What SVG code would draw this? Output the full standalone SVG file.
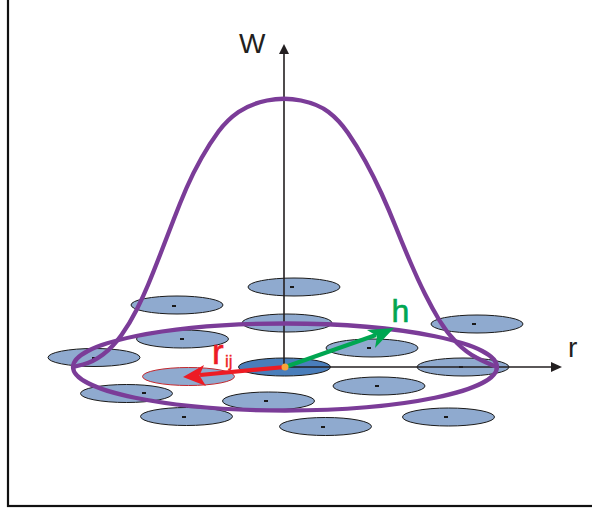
<svg xmlns="http://www.w3.org/2000/svg" width="592" height="512" viewBox="0 0 592 512">
<style>
.p{fill:#8faacf;stroke:#1a1a1a;stroke-width:1}
.d{fill:#1a1a1a}
.ax{stroke:#231f20;stroke-width:1.6;fill:none}
.ah{fill:#231f20}
.pur{fill:none;stroke:#7b3c98;stroke-width:4.3}
.t{font-family:"Liberation Sans",Arial,sans-serif}
</style>
<rect x="0" y="0" width="592" height="512" fill="#ffffff"/>
<rect x="8" y="-10" width="600" height="516" fill="none" stroke="#111" stroke-width="2.2"/>

<g id="particles">
<g id="pI"><ellipse class="p" cx="294" cy="287" rx="46" ry="9"/><rect class="d" x="290" y="286" width="4" height="2"/></g>
<g id="pA"><ellipse class="p" cx="177" cy="305" rx="46" ry="9"/><rect class="d" x="172" y="305" width="4" height="2"/></g>
<g id="pJ"><ellipse class="p" cx="287" cy="323" rx="45" ry="9"/></g>
<g id="pL"><ellipse class="p" cx="477" cy="324" rx="46" ry="9"/><rect class="d" x="472" y="323" width="4" height="2"/></g>
<g id="pB"><ellipse class="p" cx="182.5" cy="339" rx="46" ry="9"/><rect class="d" x="180" y="338" width="4" height="2"/></g>
<g id="pK"><ellipse class="p" cx="372" cy="348" rx="46" ry="9"/><rect class="d" x="367" y="347" width="4" height="2"/></g>
<g id="pC"><ellipse class="p" cx="94" cy="357.5" rx="46" ry="9"/><rect class="d" x="92" y="357" width="4" height="2"/></g>
<g id="pH"><ellipse cx="284.5" cy="367" rx="46" ry="9" fill="#4a7ebb" stroke="#1a1a1a" stroke-width="1"/></g>
<g id="pM"><ellipse class="p" cx="463" cy="367" rx="46" ry="9"/><rect class="d" x="459" y="366" width="4" height="2"/></g>
<g id="pD"><ellipse cx="188.5" cy="376.5" rx="46" ry="9" fill="#8faacf" stroke="#c1272d" stroke-width="1"/></g>
<g id="pN"><ellipse class="p" cx="379" cy="386" rx="46" ry="9"/><rect class="d" x="375" y="385" width="4" height="2"/></g>
<g id="pE"><ellipse class="p" cx="126.5" cy="393.5" rx="46" ry="9"/><rect class="d" x="142" y="392" width="4" height="2"/></g>
<g id="pG"><ellipse class="p" cx="268.5" cy="401" rx="46" ry="9"/><rect class="d" x="264" y="400" width="4" height="2"/></g>
<g id="pF"><ellipse class="p" cx="186.5" cy="416.5" rx="46" ry="9"/><rect class="d" x="182" y="416" width="4" height="2"/></g>
<g id="pO"><ellipse class="p" cx="448.5" cy="417" rx="46" ry="9"/><rect class="d" x="444" y="416" width="4" height="2"/></g>
<g id="pP"><ellipse class="p" cx="325.5" cy="426.5" rx="46" ry="9"/><rect class="d" x="321" y="426" width="4" height="2"/></g>
</g>

<g id="connectors">
<line class="ax" x1="284" y1="367" x2="284" y2="52"/>
<polygon class="ah" points="284,44 279,54 289,54"/>
<line class="ax" x1="285" y1="367" x2="554" y2="367"/>
<polygon class="ah" points="562,367 551,362 551,372"/>
<path class="pur" d="M73,367 L83,364.5 Q93,362 103,354.5 Q113,347 121.5,335 Q130,323 136.5,310 Q143,297 148,285 Q153,273 160,255 Q167,237 173.5,220 Q180,203 186.5,188 Q193,173 201.5,158 Q210,143 218.5,131.5 Q227,120 238.5,112 Q250,104 267,100.5 Q284,97 301,100.5 Q318,104 328.5,112 Q339,120 348,133 Q357,146 365.5,161.5 Q374,177 381.5,193.5 Q389,210 396,227.5 Q403,245 410.5,262.5 Q418,280 425,294 Q432,308 439.5,320.5 Q447,333 457,343 Q467,353 477,358 Q487,363 492,365 L497,367"/>
<ellipse class="pur" cx="285" cy="367" rx="212" ry="43.5"/>
<g id="rij-arrow">
<line x1="285" y1="367" x2="200" y2="375" stroke="#ed1c24" stroke-width="4.2"/>
<polygon points="183,377 204,365 199.5,375.5 206,386" fill="#ed1c24"/>
</g>
<g id="h-arrow">
<line x1="285" y1="367" x2="376" y2="335" stroke="#00a651" stroke-width="4.2"/>
<polygon points="394,328 367,330 377,336 375,348" fill="#00a651"/>
</g>
<circle cx="285" cy="367" r="3.5" fill="#f9a33b"/>
</g>

<g id="labels">
<text class="t" x="239" y="53" font-size="28" fill="#231f20">W</text>
<text class="t" x="568" y="357" font-size="28" fill="#231f20">r</text>
<text class="t" x="391.5" y="322" font-size="32" fill="#00a651" stroke="#00a651" stroke-width="0.6">h</text>
<text class="t" x="212" y="364" font-size="35" fill="#ed1c24" stroke="#ed1c24" stroke-width="0.6">r</text>
<text class="t" x="225" y="367" font-size="17" fill="#ed1c24" stroke="#ed1c24" stroke-width="0.3">ij</text>
</g>
</svg>
